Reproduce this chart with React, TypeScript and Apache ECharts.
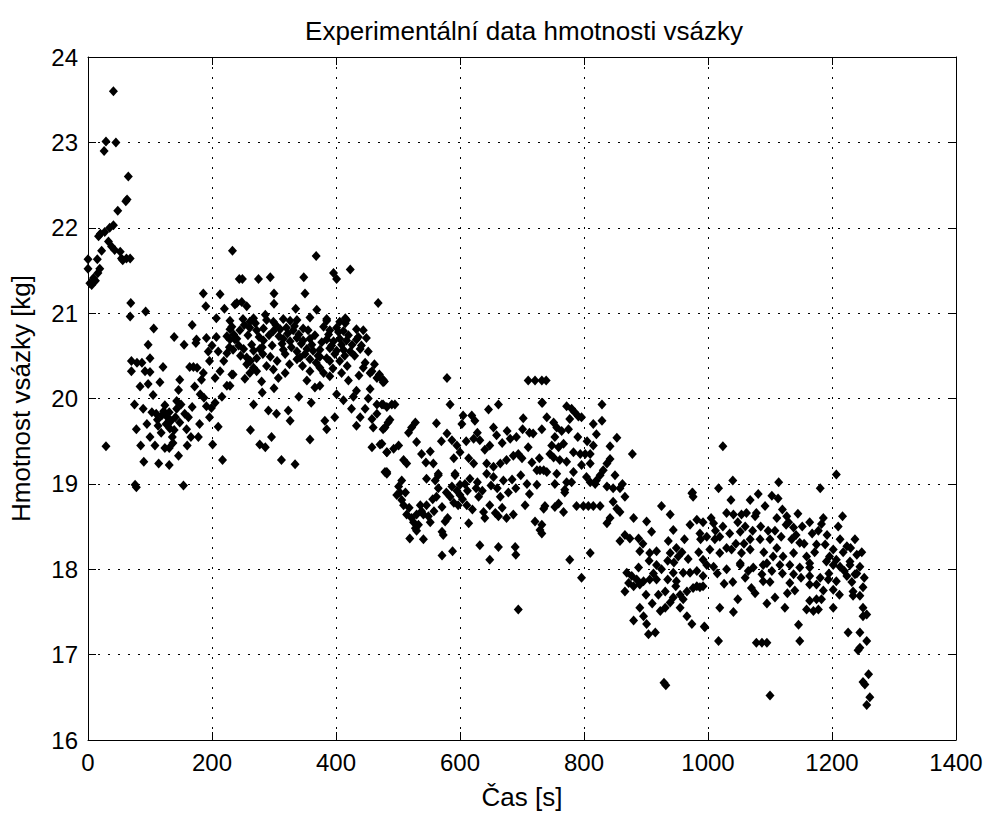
import React, { useEffect, useRef } from "react";
import * as echarts from "echarts";

const chartTitle = "Experimentální data hmotnosti vsázky";
const xName = "Čas [s]";
const yName = "Hmotnost vsázky [kg]";

// [time s, mass kg]
const phaseStart: [number, number][] = [
  [0, 21.63], [0, 21.52], [3, 21.35], [6, 21.33], [9, 21.41], [12, 21.38], [15, 21.63], [16, 21.47],
  [17, 21.9], [19, 21.52], [20, 21.93], [22, 21.73], [26, 22.9], [27, 21.95], [29, 23.01], [29, 19.44],
  [33, 21.84], [35, 22.0], [38, 21.78], [41, 23.6], [41, 22.03], [43, 21.74], [45, 23.0], [48, 22.2],
  [52, 21.72], [54, 21.64], [56, 21.62], [61, 22.31], [62, 21.64], [63, 22.33], [65, 22.6], [68, 21.64],
];

const phaseEarly: [number, number][] = [
  [69, 21.12], [68, 20.96], [93, 21.02], [106, 20.82], [97, 20.63], [70, 20.44], [79, 20.42], [87, 20.42],
  [100, 20.47], [70, 20.32], [92, 20.32], [100, 20.31], [121, 20.37], [84, 20.14], [97, 20.17], [116, 20.19],
  [105, 20.04], [75, 19.93], [89, 19.88], [103, 19.84], [110, 19.82], [119, 19.8], [127, 19.79], [124, 19.92],
  [131, 19.84], [143, 19.88], [156, 19.82], [113, 19.68], [78, 19.64], [132, 19.65], [139, 19.63], [159, 19.64],
  [136, 19.55], [137, 19.48], [131, 19.42], [85, 19.45], [108, 19.45], [90, 19.26], [114, 19.24], [131, 19.22],
  [178, 19.55], [78, 18.96], [76, 18.99], [154, 18.98], [201, 19.46], [217, 19.28], [186, 21.23], [213, 21.22],
  [190, 21.08], [220, 21.05], [237, 21.1], [207, 20.94], [232, 20.84], [168, 20.86], [139, 20.72], [155, 20.63],
  [175, 20.69], [191, 20.71], [207, 20.72], [224, 20.73], [237, 20.69], [174, 20.65], [224, 20.53], [196, 20.44],
  [219, 20.44], [164, 20.37], [170, 20.37], [176, 20.36], [213, 20.32], [232, 20.28], [205, 20.24], [183, 20.22],
  [148, 20.22], [172, 20.14], [224, 20.15], [146, 20.1], [143, 19.97], [187, 20.01], [191, 19.91], [199, 19.89],
  [196, 19.78], [210, 19.67], [233, 21.73], [244, 21.4], [118, 19.6], [126, 19.7], [150, 19.93], [166, 19.55],
  [112, 19.75], [122, 19.85], [134, 19.74], [141, 19.78], [148, 19.72], [162, 19.78], [168, 19.9], [181, 20.05],
  [186, 20.3], [194, 20.55], [200, 20.62], [210, 20.55], [228, 20.6], [216, 20.02], [205, 19.95], [180, 19.7],
  [160, 19.45], [146, 19.33], [124, 19.42], [100, 19.55], [95, 19.7],
];

const phasePlateau: [number, number][] = [
  [368, 21.67], [423, 21.51], [396, 21.47], [401, 21.4], [249, 21.4], [275, 21.4], [294, 21.42], [348, 21.42],
  [300, 21.23], [350, 21.23], [300, 21.11], [468, 21.12], [240, 21.12], [248, 21.13], [256, 21.08], [335, 21.05],
  [369, 21.04], [385, 20.93], [417, 20.92], [415, 20.88],
  [229, 20.91], [250, 20.93], [261, 20.9], [267, 20.94], [288, 20.92], [299, 20.9], [315, 20.93], [326, 20.91],
  [337, 20.92], [358, 20.95], [385, 20.91], [406, 20.9], [415, 20.94],
  [229, 20.81], [245, 20.8], [261, 20.83], [272, 20.8], [283, 20.82], [299, 20.79], [310, 20.81], [320, 20.83],
  [331, 20.8], [347, 20.82], [390, 20.8], [401, 20.83], [412, 20.79], [433, 20.81], [444, 20.8],
  [229, 20.69], [240, 20.7], [283, 20.68], [315, 20.7], [326, 20.67], [337, 20.71], [347, 20.68], [358, 20.7],
  [385, 20.69], [396, 20.67], [406, 20.7], [417, 20.68], [433, 20.69], [449, 20.71],
  [234, 20.57], [251, 20.58], [267, 20.56], [277, 20.58], [315, 20.57], [337, 20.55], [353, 20.58], [363, 20.56],
  [374, 20.57], [390, 20.59], [401, 20.56], [412, 20.57], [423, 20.55], [439, 20.58],
  [256, 20.48], [272, 20.47], [294, 20.49], [342, 20.48], [358, 20.46], [374, 20.49], [385, 20.47],
  [256, 20.4], [267, 20.36], [261, 20.3], [272, 20.32], [234, 20.28], [229, 20.15], [253, 20.23], [288, 20.38],
  [299, 20.34], [307, 20.24], [337, 20.46], [358, 20.32], [374, 20.36], [390, 20.44], [406, 20.44], [380, 20.3],
  [390, 20.26], [409, 20.3], [420, 20.21], [444, 20.36], [455, 20.3], [466, 20.24], [476, 20.21], [353, 20.21],
  [366, 20.13], [374, 20.15], [433, 20.09], [455, 20.11], [401, 20.05], [281, 20.07], [267, 19.93], [291, 19.86],
  [304, 19.82], [323, 19.86], [326, 19.74], [382, 19.74], [398, 19.78], [385, 19.64], [425, 19.88], [447, 19.88],
  [439, 19.78], [458, 19.76], [466, 19.93], [476, 19.93], [482, 19.9], [433, 19.68], [460, 19.66], [476, 19.64],
  [262, 19.63], [296, 19.55], [277, 19.46], [286, 19.43], [358, 19.52], [458, 19.43], [471, 19.46], [482, 19.37],
  [312, 19.28], [334, 19.23], [479, 19.14],
  [235, 20.75], [243, 20.62], [252, 20.86], [258, 20.74], [264, 20.63], [270, 20.88], [276, 20.72], [281, 20.6],
  [286, 20.98], [292, 20.74], [297, 20.62], [303, 20.86], [308, 20.73], [313, 20.64], [318, 20.52], [322, 20.76],
  [328, 20.6], [333, 20.85], [340, 20.75], [344, 20.64], [350, 20.52], [355, 20.8], [361, 20.63], [366, 20.74],
  [371, 20.5], [377, 20.66], [380, 20.84], [388, 20.75], [393, 20.62], [398, 20.52], [404, 20.78], [409, 20.63],
  [414, 20.5], [420, 20.74], [426, 20.63], [430, 20.5], [436, 20.72], [441, 20.62], [447, 20.42], [452, 20.55],
  [458, 20.32], [462, 20.4], [246, 20.5], [262, 20.44], [282, 20.52], [305, 20.44], [325, 20.4], [346, 20.38],
  [368, 20.42], [395, 20.35], [418, 20.38], [437, 20.27], [470, 20.28], [478, 20.2], [280, 20.2], [300, 20.12],
  [318, 20.3], [340, 20.02], [360, 19.95], [412, 19.98], [428, 20.02], [452, 20.0], [466, 19.82],
];

const phaseDrop: [number, number][] = [
  [476, 20.22], [476, 20.19], [579, 20.24], [710, 20.21], [721, 20.21], [732, 20.21], [474, 19.93], [490, 19.93],
  [495, 19.93], [584, 19.93], [646, 19.87], [662, 19.93], [732, 19.95], [487, 19.75], [484, 19.72], [479, 19.66],
  [528, 19.72], [522, 19.66], [517, 19.6], [562, 19.71], [605, 19.8], [619, 19.8], [603, 19.7], [624, 19.74],
  [654, 19.66], [659, 19.57], [648, 19.45], [702, 19.77], [701, 19.64], [718, 19.59], [579, 19.59], [587, 19.51],
  [595, 19.45], [600, 19.37], [622, 19.53], [632, 19.51], [530, 19.49], [474, 19.47], [482, 19.37], [493, 19.41],
  [501, 19.45], [538, 19.35], [681, 19.53], [691, 19.55], [710, 19.43], [509, 19.28], [514, 19.24], [557, 19.24],
  [614, 19.3], [622, 19.24], [643, 19.24], [654, 19.2], [665, 19.24], [675, 19.28], [686, 19.33], [694, 19.35],
  [724, 19.16], [735, 19.16], [482, 19.14], [565, 19.12], [592, 19.12],
  [482, 19.12], [506, 19.04], [501, 18.97], [498, 18.87], [506, 18.81], [509, 18.75], [514, 18.64], [522, 18.6],
  [530, 18.64], [536, 18.75], [546, 18.75], [541, 18.64], [549, 18.62], [528, 18.48], [530, 18.45], [519, 18.36],
  [541, 18.35], [573, 18.4], [571, 18.44], [576, 18.56], [571, 18.73], [565, 18.95], [560, 19.04], [546, 19.06],
  [565, 19.1], [592, 19.1], [587, 18.97], [600, 18.99], [608, 19.0], [616, 19.06], [584, 18.85], [597, 18.75],
  [600, 18.87], [611, 18.75], [614, 18.54], [630, 18.85], [638, 18.67], [643, 19.12], [654, 19.08], [670, 19.04],
  [648, 18.75], [657, 18.66], [662, 18.62], [675, 18.6], [686, 18.64], [665, 18.85], [708, 19.0], [724, 18.99],
  [705, 18.75], [721, 18.56], [729, 18.46], [735, 18.71], [632, 18.28], [662, 18.26], [689, 18.26], [690, 18.17],
  [648, 18.11], [571, 18.16], [588, 18.21], [694, 17.53], [503, 18.9], [556, 18.82], [580, 18.6], [626, 18.95],
  [512, 18.9], [518, 18.72], [525, 18.55], [533, 18.52], [538, 18.68], [552, 18.55], [558, 18.68], [562, 18.85],
  [578, 18.9], [590, 18.78], [595, 18.92], [604, 18.82], [612, 18.92], [620, 18.7], [628, 19.02], [636, 18.92],
  [640, 18.6], [650, 18.98], [660, 18.95], [668, 18.72], [678, 18.9], [684, 19.05], [690, 18.95], [698, 19.1],
  [712, 18.88], [716, 19.25], [728, 19.3], [545, 19.25], [552, 19.38], [570, 19.5], [590, 19.3], [610, 19.5],
  [628, 19.6], [640, 19.4], [668, 19.48], [676, 19.62], [700, 19.3], [712, 19.6],
];

const phaseMid: [number, number][] = [
  [739, 20.21], [733, 19.95], [772, 19.91], [780, 19.88], [785, 19.84], [791, 19.79], [796, 19.78], [829, 19.93],
  [740, 19.78], [751, 19.72], [756, 19.66], [764, 19.62], [775, 19.64], [777, 19.76], [732, 19.64], [829, 19.74],
  [815, 19.7], [820, 19.58], [753, 19.55], [748, 19.45], [759, 19.43], [767, 19.47], [745, 19.35], [853, 19.54],
  [842, 19.44], [783, 19.37], [794, 19.35], [802, 19.35], [810, 19.35], [751, 19.31], [761, 19.28], [772, 19.26],
  [796, 19.22], [810, 19.24], [842, 19.29], [837, 19.24], [831, 19.16], [826, 19.1], [820, 19.04], [878, 19.35],
  [729, 19.16], [740, 19.14], [756, 19.12], [783, 19.14], [780, 19.02], [772, 19.02], [753, 19.0], [769, 18.93],
  [804, 19.08], [810, 19.02], [818, 19.0], [837, 18.97], [847, 18.95], [858, 18.95], [975, 18.9],
  [769, 18.9], [737, 18.74], [753, 18.73], [759, 18.77], [767, 18.67], [788, 18.74], [799, 18.74], [807, 18.74],
  [815, 18.74], [826, 18.74], [847, 18.79], [853, 18.71], [858, 18.67], [842, 18.6], [837, 18.54], [732, 18.52],
  [732, 18.42], [866, 18.4], [858, 18.33], [874, 18.36], [888, 18.36], [901, 18.56], [909, 18.44], [925, 18.74],
  [939, 18.64], [944, 18.46], [971, 18.52], [982, 18.58], [976, 18.85], [974, 18.89], [936, 18.33], [949, 18.25],
  [939, 18.19], [952, 18.15], [917, 18.21], [906, 18.19], [890, 18.21], [810, 18.19], [777, 18.11], [796, 17.9],
  [888, 18.02], [917, 18.05], [869, 17.96], [877, 17.92], [885, 17.88], [896, 17.86], [906, 17.88], [917, 17.88],
  [872, 17.84], [866, 17.74], [880, 17.8], [890, 17.82], [949, 17.86], [944, 17.96], [960, 17.96], [971, 17.96],
  [982, 17.98], [992, 17.92], [931, 17.74], [939, 17.61], [931, 17.55], [923, 17.51], [944, 17.67], [955, 17.7],
  [966, 17.74], [976, 17.78], [982, 17.8], [992, 17.8], [966, 17.45], [974, 17.36], [880, 17.4], [896, 17.45],
  [901, 17.36], [904, 17.24], [915, 17.26], [995, 17.32], [929, 16.67], [932, 16.64],
  [790, 19.55], [805, 19.5], [815, 19.45], [850, 19.1], [862, 19.0], [866, 18.85], [880, 18.6], [895, 18.3],
  [905, 18.1], [912, 17.95], [925, 18.0], [935, 18.1], [945, 18.08], [958, 18.2], [962, 18.35], [968, 18.12],
  [985, 18.2], [988, 18.35], [955, 17.55], [960, 17.65], [948, 17.8], [935, 17.88], [920, 17.7], [910, 17.6],
  [900, 17.7], [890, 17.55],
];

const phaseLate: [number, number][] = [
  [1024, 19.44], [1207, 19.11], [1017, 18.95], [1040, 19.04], [1114, 19.02], [1181, 18.95], [1217, 18.62],
  [1037, 18.81], [1068, 18.81], [1081, 18.88], [1103, 18.86], [1113, 18.83], [1092, 18.74], [1030, 18.66],
  [1041, 18.64], [1054, 18.64], [1062, 18.66], [1078, 18.66], [1076, 18.62], [992, 18.55], [1009, 18.54],
  [1111, 18.6], [1127, 18.62], [1126, 18.52], [1138, 18.49], [1164, 18.55], [1183, 18.53], [987, 18.42],
  [998, 18.38], [1011, 18.35], [1019, 18.38], [1035, 18.42], [1052, 18.44], [1068, 18.35], [1084, 18.35],
  [1100, 18.35], [1135, 18.35], [1148, 18.31], [1175, 18.29], [1189, 18.29], [1213, 18.35], [1237, 18.35],
  [1003, 18.23], [1019, 18.19], [1038, 18.23], [1054, 18.19], [1068, 18.23], [1111, 18.25], [1121, 18.15],
  [1138, 18.19], [1159, 18.15], [1202, 18.23], [1224, 18.27], [1240, 18.17], [992, 18.11], [1052, 18.07],
  [1095, 18.07], [1164, 18.07], [1191, 18.09], [1207, 18.11], [1229, 18.09],
  [998, 18.05], [1009, 18.03], [1052, 18.05], [1073, 18.02], [1089, 18.05], [1116, 18.05], [1132, 18.05],
  [1148, 18.02], [1164, 18.02], [1202, 18.05], [1213, 18.03], [1229, 18.05], [1245, 18.03], [1065, 17.98],
  [1087, 17.94], [1103, 17.98], [1138, 17.94], [1164, 17.92], [1181, 17.9], [1194, 17.88], [1207, 17.86],
  [1224, 17.92], [1237, 17.94], [987, 17.79], [1026, 17.83], [1070, 17.78], [1076, 17.72], [1089, 17.86],
  [1132, 17.84], [1164, 17.82], [1175, 17.82], [1202, 17.76], [1234, 17.74], [1250, 17.79], [1245, 17.69],
  [1234, 17.69], [1108, 17.67], [1164, 17.63], [1175, 17.65], [1183, 17.65], [1159, 17.53], [1170, 17.51],
  [1178, 17.53], [1124, 17.55], [1202, 17.55], [1250, 17.55], [1256, 17.47], [1250, 17.45], [1019, 17.55],
  [1041, 17.5], [994, 17.33], [1146, 17.35], [1017, 17.16], [1078, 17.14], [1087, 17.14], [1095, 17.14],
  [1148, 17.16], [1226, 17.26], [1245, 17.26], [1256, 17.16], [1245, 17.08], [1242, 17.05], [1259, 16.77],
  [1250, 16.68], [1253, 16.65], [1100, 16.52], [1261, 16.5], [1256, 16.41],
  [1005, 18.6], [1012, 18.45], [1024, 18.5], [1030, 18.25], [1045, 18.3], [1048, 18.55], [1058, 18.3],
  [1060, 18.5], [1072, 18.45], [1085, 18.5], [1090, 18.2], [1097, 18.45], [1105, 18.15], [1108, 18.45],
  [1118, 18.38], [1120, 18.7], [1130, 18.55], [1142, 18.4], [1145, 18.65], [1152, 18.5], [1155, 18.3],
  [1168, 18.42], [1172, 18.2], [1178, 18.45], [1186, 18.6], [1192, 18.4], [1196, 18.15], [1210, 18.5],
  [1218, 18.2], [1220, 17.98], [1230, 18.25], [1232, 17.85], [1240, 17.95], [1248, 18.2], [1252, 17.9],
  [1186, 17.75], [1195, 17.95], [1212, 17.7], [1140, 17.75], [1150, 17.9], [1120, 17.95], [1100, 17.85],
  [1060, 17.9], [1040, 17.85], [1030, 18.0], [1015, 17.95], [1048, 17.65], [1095, 17.6], [1128, 17.72],
];

const xMin = 0, xMax = 1400, xStep = 200;
const yMin = 16, yMax = 24, yStep = 1;

export default function App() {
  const ref = useRef<HTMLDivElement>(null);
  useEffect(() => {
    if (!ref.current) return;
    const chart = echarts.init(ref.current, null, { renderer: "svg" });
    const font = "Liberation Sans";
    const axisBase = {
      type: "value" as const,
      axisLine: { show: true, onZero: false, lineStyle: { color: "#000", width: 1 } },
      axisTick: { show: true, inside: true, length: 8, lineStyle: { color: "#000", width: 1 } },
    };
    const grid = { color: "#000", width: 1, type: [2, 8] };
    chart.setOption({
      animation: false,
      backgroundColor: "#fff",
      grid: { left: 88, top: 57, width: 868, height: 687, containLabel: false },
      graphic: [
        {
          type: "text",
          x: 524,
          y: 31,
          style: {
            text: chartTitle,
            fill: "#000",
            font: `26px "${font}"`,
            textAlign: "center",
            textVerticalAlign: "middle",
          },
        },
      ],
      xAxis: [
        {
          ...axisBase,
          position: "bottom",
          min: xMin,
          max: xMax,
          interval: xStep,
          name: xName,
          nameLocation: "middle",
          nameGap: 44,
          nameTextStyle: { color: "#000", fontFamily: font, fontSize: 26 },
          axisLabel: {
            color: "#000",
            fontFamily: font,
            fontSize: 24,
            margin: 10,
            formatter: (v: number) => String(v),
          },
          splitLine: { show: true, lineStyle: grid },
        },
        {
          ...axisBase,
          position: "top",
          min: xMin,
          max: xMax,
          interval: xStep,
          axisLabel: { show: false },
          splitLine: { show: false },
        },
      ],
      yAxis: [
        {
          ...axisBase,
          position: "left",
          min: yMin,
          max: yMax,
          interval: yStep,
          name: yName,
          nameLocation: "middle",
          nameGap: 54,
          nameTextStyle: { color: "#000", fontFamily: font, fontSize: 26 },
          axisLabel: {
            color: "#000",
            fontFamily: font,
            fontSize: 24,
            margin: 10,
            formatter: (v: number) => String(v),
          },
          splitLine: { show: true, lineStyle: grid },
        },
        {
          ...axisBase,
          position: "right",
          min: yMin,
          max: yMax,
          interval: yStep,
          axisLabel: { show: false },
          splitLine: { show: false },
        },
      ],
      series: [
        {
          type: "scatter",
          xAxisIndex: 0,
          yAxisIndex: 0,
          symbol: "diamond",
          symbolSize: [9, 10],
          itemStyle: { color: "#000", opacity: 1 },
          data: [...phaseStart, ...phaseEarly, ...phasePlateau, ...phaseDrop, ...phaseMid, ...phaseLate],
        },
      ],
    });
    return () => chart.dispose();
  }, []);
  return (
    <div
      ref={ref}
      style={{ position: "absolute", left: 0, top: 0, width: 987, height: 815, background: "#fff" }}
    />
  );
}
